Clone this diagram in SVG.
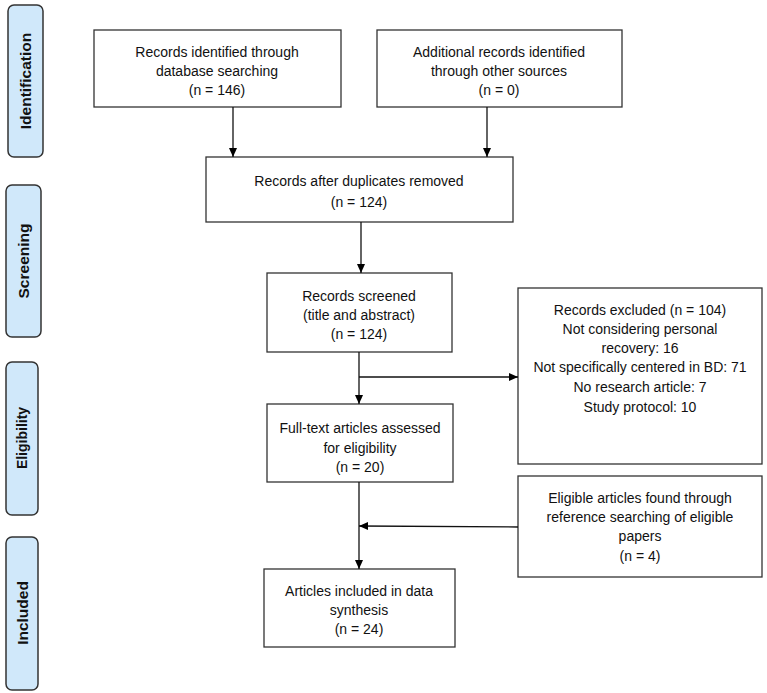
<svg xmlns="http://www.w3.org/2000/svg" width="767" height="693" viewBox="0 0 767 693">
<defs>
<marker id="ah" markerWidth="10" markerHeight="10" refX="9" refY="5" orient="auto" markerUnits="userSpaceOnUse">
<path d="M0,1 L9,5 L0,9 Z" fill="#000"/>
</marker>
<style>
.box{fill:#fff;stroke:#333;stroke-width:1.3}
.phase{fill:#d0e8fa;stroke:#333;stroke-width:1.5}
.t{font-family:"Liberation Sans",Arial,sans-serif;font-size:14px;fill:#111;text-anchor:middle}
.p{font-family:"Liberation Sans",Arial,sans-serif;font-size:15.5px;font-weight:bold;fill:#111;text-anchor:middle}
.c{stroke:#111;stroke-width:1.3;fill:none}
</style>
</defs>
<rect width="767" height="693" fill="#fff"/>
<g id="phase-identification"><rect class="phase" x="8" y="5" width="35" height="152" rx="6"/><text class="p" transform="translate(31,81) rotate(-90)">Identification</text></g>
<g id="phase-screening"><rect class="phase" x="6" y="185" width="35" height="152" rx="6"/><text class="p" transform="translate(29,261) rotate(-90)">Screening</text></g>
<g id="phase-eligibility"><rect class="phase" x="6" y="362" width="32" height="153" rx="6"/><text class="p" style="font-size:14px" transform="translate(27,438) rotate(-90)">Eligibility</text></g>
<g id="phase-included"><rect class="phase" x="6" y="537" width="32" height="153" rx="6"/><text class="p" transform="translate(28,613) rotate(-90)">Included</text></g>

<g id="n1"><rect class="box" x="94" y="30" width="247" height="77"/>
<text class="t" x="217" y="57">Records identified through</text>
<text class="t" x="217" y="76">database searching</text>
<text class="t" x="217" y="95">(n = 146)</text></g>
<g id="n2"><rect class="box" x="377" y="30" width="245" height="77"/>
<text class="t" x="499" y="57">Additional records identified</text>
<text class="t" x="499" y="76">through other sources</text>
<text class="t" x="499" y="95">(n = 0)</text></g>
<g id="n3"><rect class="box" x="206" y="157" width="307" height="65"/>
<text class="t" x="359" y="186">Records after duplicates removed</text>
<text class="t" x="359" y="207">(n = 124)</text></g>
<g id="n4"><rect class="box" x="267" y="273" width="185" height="79"/>
<text class="t" x="359" y="301">Records screened</text>
<text class="t" x="359" y="320">(title and abstract)</text>
<text class="t" x="359" y="339">(n = 124)</text></g>
<g id="n5"><rect class="box" x="518" y="288" width="244" height="176"/>
<text class="t" x="640" y="315">Records excluded (n = 104)</text>
<text class="t" x="640" y="334">Not considering personal</text>
<text class="t" x="640" y="353">recovery: 16</text>
<text class="t" x="640" y="372">Not specifically centered in BD: 71</text>
<text class="t" x="640" y="392">No research article: 7</text>
<text class="t" x="640" y="412">Study protocol: 10</text></g>
<g id="n6"><rect class="box" x="267" y="404" width="186" height="78"/>
<text class="t" x="360" y="433">Full-text articles assessed</text>
<text class="t" x="360" y="453">for eligibility</text>
<text class="t" x="360" y="472">(n = 20)</text></g>
<g id="n7"><rect class="box" x="518" y="476" width="244" height="101"/>
<text class="t" x="640" y="503">Eligible articles found through</text>
<text class="t" x="640" y="522">reference searching of eligible</text>
<text class="t" x="640" y="541">papers</text>
<text class="t" x="640" y="561">(n = 4)</text></g>
<g id="n8"><rect class="box" x="264" y="569" width="191" height="78"/>
<text class="t" x="359" y="596">Articles included in data</text>
<text class="t" x="359" y="615">synthesis</text>
<text class="t" x="359" y="634">(n = 24)</text></g>

<g id="connectors">
<line class="c" x1="233" y1="107" x2="233" y2="157" marker-end="url(#ah)"/>
<line class="c" x1="487" y1="107" x2="487" y2="157" marker-end="url(#ah)"/>
<line class="c" x1="361" y1="222" x2="361" y2="273" marker-end="url(#ah)"/>
<line class="c" x1="359" y1="352" x2="359" y2="404" marker-end="url(#ah)"/>
<line class="c" x1="359" y1="377" x2="518" y2="377" marker-end="url(#ah)"/>
<line class="c" x1="359" y1="482" x2="359" y2="569" marker-end="url(#ah)"/>
<line class="c" x1="518" y1="527" x2="359" y2="526" marker-end="url(#ah)"/>
</g>
</svg>
